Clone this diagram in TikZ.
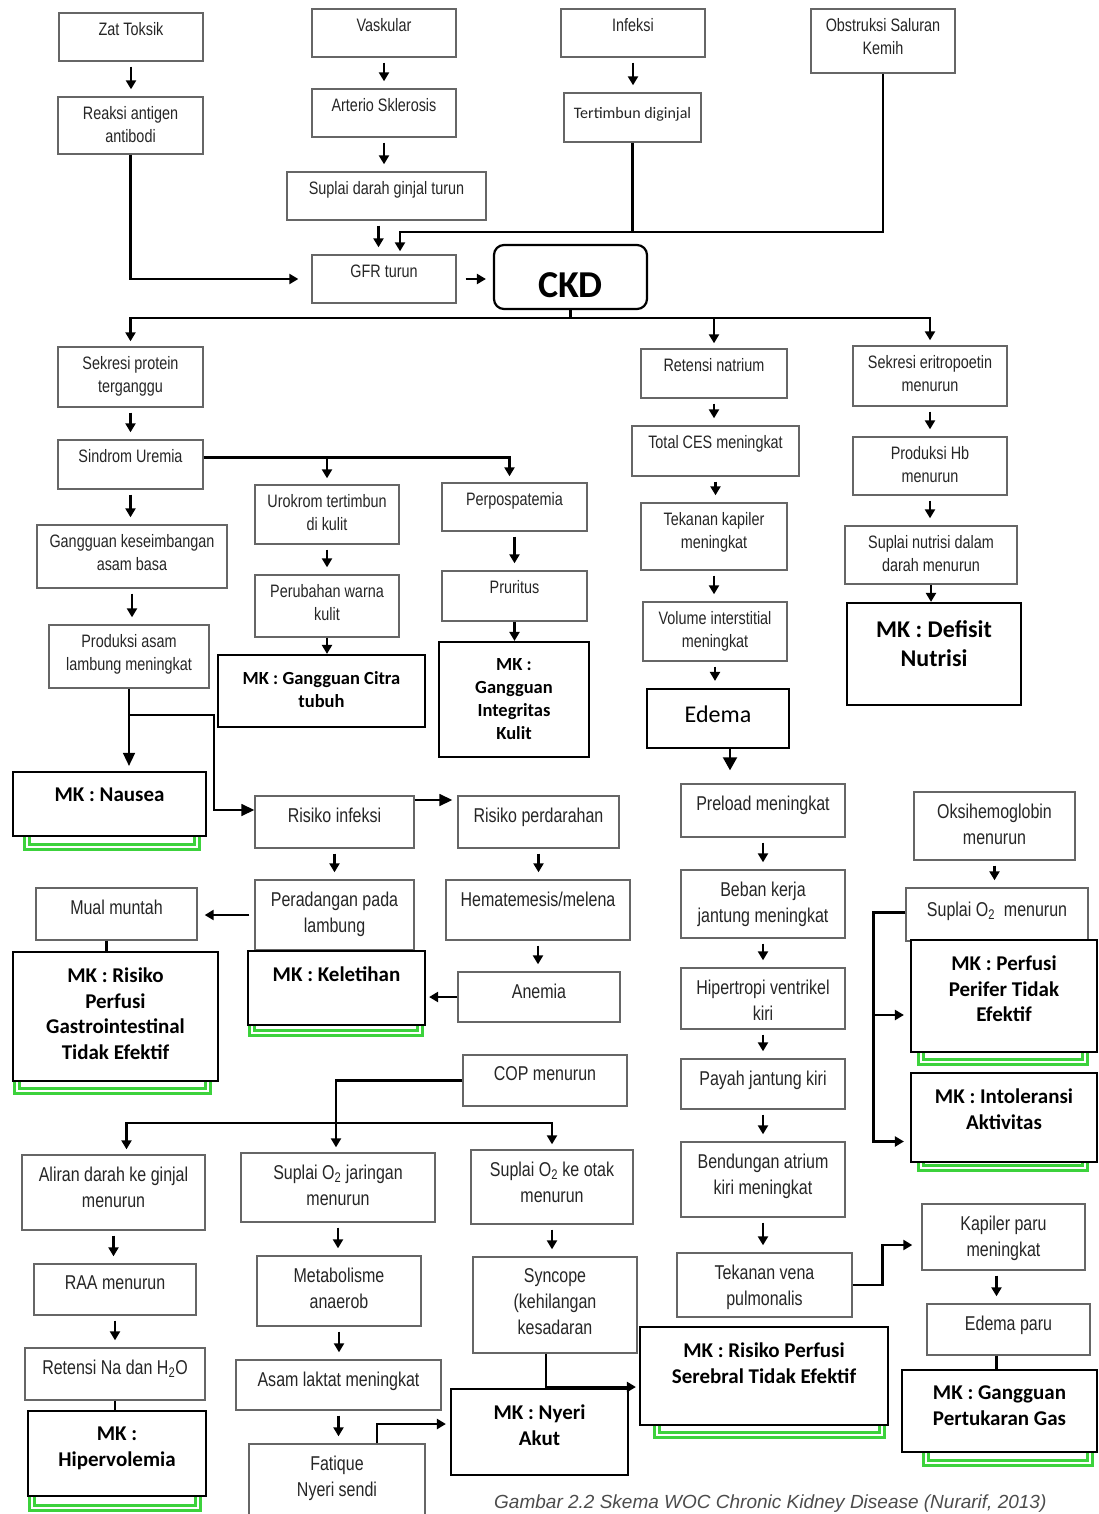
\documentclass[tikz,border=0pt]{standalone}
\usepackage{fontspec}
\usetikzlibrary{arrows.meta}
\newfontfamily\gfont[FakeStretch=0.8]{Liberation Sans}
\newfontfamily\capfont{Liberation Sans}
\newfontfamily\mkfont{Carlito}
\definecolor{mkgreen}{RGB}{60,210,60}

\tikzset{
  gbox/.style={draw=black!60, line width=1.4pt, fill=white, inner sep=0pt},
  mkbox/.style={draw=black, line width=2.2pt, fill=white, inner sep=0pt},
  gtxt/.style={anchor=north, inner xsep=0pt, inner ysep=10pt, align=center, text=black!85, font=\gfont\fontsize{18}{22.5}\selectfont},
  gtxtb/.style={gtxt, inner ysep=12.5pt, font=\gfont\fontsize{20}{26}\selectfont},
  gtxtc/.style={gtxt, inner ysep=15pt, font=\mkfont\fontsize{16}{20}\selectfont},
  mtxt/.style={anchor=north, inner xsep=0pt, inner ysep=17pt, align=center, font=\mkfont\bfseries\fontsize{21}{25.5}\selectfont},
  mtxts/.style={mtxt, font=\mkfont\bfseries\fontsize{18.5}{23}\selectfont},
  mtxtl/.style={mtxt, inner ysep=19pt, font=\mkfont\bfseries\fontsize{24}{29}\selectfont},
  etxt/.style={mtxt, inner ysep=18pt, font=\mkfont\fontsize{24}{28}\selectfont},
  ctxt/.style={mtxt, inner ysep=28pt, font=\mkfont\bfseries\fontsize{38}{40}\selectfont},
  captxt/.style={inner sep=0pt, text=black!70, font=\capfont\itshape\fontsize{19}{22}\selectfont},
  arr/.style={line width=2.6pt, -{Triangle[length=9pt,width=10pt]}, shorten <=5pt, shorten >=7pt},
  arrin/.style={line width=2.6pt, -{Triangle[length=9pt,width=10pt]}},
  ln/.style={line width=2.6pt},
  tarr/.style={line width=1.6pt, -{Triangle[length=13pt,width=12pt]}},
  bigarr/.style={line width=2pt, -{Triangle[length=13pt,width=14pt]}},
  grn/.style={draw=mkgreen, line width=2.5pt, double=white, double distance=2.5pt},
}

\begin{document}
\begin{tikzpicture}[x=1pt, y=-1pt]
\useasboundingbox (0,0) rectangle (1098,1514);
\fill[white] (0,0) rectangle (1098,1514);

% green frames behind the MK boxes
\draw[grn] (27,800) rectangle (197,847);
\draw[grn] (17,1040) rectangle (208,1091);
\draw[grn] (252,1000) rectangle (420,1033);
\draw[grn] (32,1460) rectangle (198,1508);
\draw[grn] (657,1400) rectangle (882,1435);
\draw[grn] (921,1000) rectangle (1085,1062);
\draw[grn] (921,1120) rectangle (1085,1168);
\draw[grn] (926,1420) rectangle (1090,1463);

% causes
\node[gbox, minimum width=144pt, minimum height=48pt, label={[gtxt]north:Zat Toksik}] (zat) at (131,37) {};
\node[gbox, minimum width=145pt, minimum height=57pt, label={[gtxt]north:{Reaksi antigen\\antibodi}}] (reaksi) at (130.5,125.5) {};
\node[gbox, minimum width=144pt, minimum height=48pt, label={[gtxt]north:Vaskular}] (vask) at (384,33) {};
\node[gbox, minimum width=144pt, minimum height=48pt, label={[gtxt]north:Arterio Sklerosis}] (arterio) at (384,113) {};
\node[gbox, minimum width=199pt, minimum height=48pt, label={[gtxt]north:Suplai darah ginjal turun}] (supdarah) at (386.5,196) {};
\node[gbox, minimum width=144pt, minimum height=48pt, label={[gtxt]north:GFR turun}] (gfr) at (384,279) {};
\node[gbox, minimum width=144pt, minimum height=48pt, label={[gtxt]north:Infeksi}] (infeksi) at (633,33) {};
\node[gbox, minimum width=137pt, minimum height=49pt, label={[gtxtc]north:Tertimbun diginjal}] (tertimbun) at (632.5,117.5) {};
\node[gbox, minimum width=144pt, minimum height=64pt, label={[gtxt]north:{Obstruksi Saluran\\Kemih}}] (obstr) at (883,41) {};
\node[mkbox, rounded corners=10pt, minimum width=153pt, minimum height=64pt, label={[ctxt]north:CKD}] (ckd) at (570.5,277) {};

% uremia branch
\node[gbox, minimum width=145pt, minimum height=60pt, label={[gtxt]north:{Sekresi protein\\terganggu}}] (sekresi) at (130.5,377) {};
\node[gbox, minimum width=145pt, minimum height=49pt, label={[gtxt]north:Sindrom Uremia}] (sindrom) at (130.5,464.5) {};
\node[gbox, minimum width=190pt, minimum height=63pt, label={[gtxt]north:{Gangguan keseimbangan\\asam basa}}] (gangguan) at (132,556.5) {};
\node[gbox, minimum width=160pt, minimum height=63pt, label={[gtxt]north:{Produksi asam\\lambung meningkat}}] (produksi) at (129,656.5) {};
\node[gbox, minimum width=144pt, minimum height=59pt, label={[gtxt]north:{Urokrom tertimbun\\di kulit}}] (urokrom) at (327,514.5) {};
\node[gbox, minimum width=144pt, minimum height=62pt, label={[gtxt]north:{Perubahan warna\\kulit}}] (perubahan) at (327,606) {};
\node[gbox, minimum width=145pt, minimum height=48pt, label={[gtxt]north:Perpospatemia}] (perpos) at (514.5,507) {};
\node[gbox, minimum width=145pt, minimum height=50pt, label={[gtxt]north:Pruritus}] (pruritus) at (514.5,596) {};

% natrium and eritropoetin branches
\node[gbox, minimum width=146pt, minimum height=49pt, label={[gtxt]north:Retensi natrium}] (retensi) at (714,373.5) {};
\node[gbox, minimum width=167pt, minimum height=50pt, label={[gtxt]north:Total CES meningkat}] (ces) at (715.5,451) {};
\node[gbox, minimum width=146pt, minimum height=67pt, label={[gtxt]north:{Tekanan kapiler\\meningkat}}] (tkapiler) at (714,536.5) {};
\node[gbox, minimum width=144pt, minimum height=59pt, label={[gtxt]north:{Volume interstitial\\meningkat}}] (volume) at (715,631.5) {};
\node[mkbox, minimum width=142pt, minimum height=59pt, label={[etxt]north:Edema}] (edema) at (718,718.5) {};
\node[gbox, minimum width=154pt, minimum height=60pt, label={[gtxt]north:{Sekresi eritropoetin\\menurun}}] (eritro) at (930,376) {};
\node[gbox, minimum width=154pt, minimum height=58pt, label={[gtxt]north:{Produksi Hb\\menurun}}] (hb) at (930,466) {};
\node[gbox, minimum width=172pt, minimum height=58pt, label={[gtxt]north:{Suplai nutrisi dalam\\darah menurun}}] (nutrisi) at (931,555) {};

% lower part
\node[gbox, minimum width=159pt, minimum height=52pt, label={[gtxtb]north:Risiko infeksi}] (risinf) at (334.5,822) {};
\node[gbox, minimum width=161pt, minimum height=52pt, label={[gtxtb]north:Risiko perdarahan}] (risper) at (538.5,822) {};
\node[gbox, minimum width=159pt, minimum height=70pt, label={[gtxtb]north:{Peradangan pada\\lambung}}] (peradangan) at (334.5,915) {};
\node[gbox, minimum width=161pt, minimum height=52pt, label={[gtxtb]north:Mual muntah}] (mual) at (116.5,914) {};
\node[gbox, minimum width=184pt, minimum height=60pt, label={[gtxtb]north:Hematemesis/melena}] (hemat) at (538,910) {};
\node[gbox, minimum width=162pt, minimum height=50pt, label={[gtxtb]north:Anemia}] (anemia) at (539,997) {};
\node[gbox, minimum width=164pt, minimum height=51pt, label={[gtxtb]north:COP menurun}] (cop) at (545,1080.5) {};
\node[gbox, minimum width=183pt, minimum height=75pt, label={[gtxtb]north:{Aliran darah ke ginjal\\menurun}}] (aliran) at (113.5,1192.5) {};
\node[gbox, minimum width=162pt, minimum height=51pt, label={[gtxtb]north:RAA menurun}] (raa) at (115,1289.5) {};
\node[gbox, minimum width=180pt, minimum height=52pt, label={[gtxtb]north:{Retensi Na dan H\textsubscript{2}O}}] (retna) at (115,1374) {};
\node[gbox, minimum width=194pt, minimum height=69pt, label={[gtxtb]north:{Suplai O\textsubscript{2} jaringan\\menurun}}] (sjar) at (338,1187.5) {};
\node[gbox, minimum width=164pt, minimum height=70pt, label={[gtxtb]north:{Metabolisme\\anaerob}}] (metab) at (339,1291) {};
\node[gbox, minimum width=205pt, minimum height=50pt, label={[gtxtb]north:Asam laktat meningkat}] (asam) at (338.5,1385) {};
\node[gbox, minimum width=176pt, minimum height=86pt, label={[gtxtb]north:{Fatique\\Nyeri sendi}}] (fatique) at (337,1487) {};
\node[gbox, minimum width=162pt, minimum height=74pt, label={[gtxtb]north:{Suplai O\textsubscript{2} ke otak\\menurun}}] (sotak) at (552,1187) {};
\node[gbox, minimum width=164pt, minimum height=96pt, label={[gtxtb]north:{Syncope\\(kehilangan\\kesadaran}}] (syncope) at (555,1305) {};
\node[gbox, minimum width=164pt, minimum height=53pt, label={[gtxtb]north:Preload meningkat}] (preload) at (763,810.5) {};
\node[gbox, minimum width=164pt, minimum height=68pt, label={[gtxtb]north:{Beban kerja\\jantung meningkat}}] (beban) at (763,904) {};
\node[gbox, minimum width=164pt, minimum height=61pt, label={[gtxtb]north:{Hipertropi ventrikel\\kiri}}] (hipertropi) at (763,998.5) {};
\node[gbox, minimum width=164pt, minimum height=50pt, label={[gtxtb]north:Payah jantung kiri}] (payah) at (763,1084) {};
\node[gbox, minimum width=164pt, minimum height=75pt, label={[gtxtb]north:{Bendungan atrium\\kiri meningkat}}] (bendungan) at (763,1179.5) {};
\node[gbox, minimum width=175pt, minimum height=64pt, label={[gtxtb]north:{Tekanan vena\\pulmonalis}}] (tvena) at (764.5,1285) {};
\node[gbox, minimum width=161pt, minimum height=68pt, label={[gtxtb]north:{Oksihemoglobin\\menurun}}] (oksi) at (994.5,826) {};
\node[gbox, minimum width=182pt, minimum height=53pt, label={[gtxtb, inner ysep=14pt]north:{Suplai O\textsubscript{2}\ \ menurun}}] (so2) at (997,914.5) {};
\node[gbox, minimum width=163pt, minimum height=66pt, label={[gtxtb]north:{Kapiler paru\\meningkat}}] (kapiler) at (1003.5,1237) {};
\node[gbox, minimum width=163pt, minimum height=51pt, label={[gtxtb]north:Edema paru}] (edparu) at (1008.5,1329.5) {};

% MK boxes
\node[mkbox, minimum width=207pt, minimum height=72pt, label={[mtxts]north:{MK : Gangguan Citra\\tubuh}}] (citra) at (321.5,691) {};
\node[mkbox, minimum width=150pt, minimum height=115pt, label={[mtxts]north:{MK :\\Gangguan\\Integritas\\Kulit}}] (integ) at (514,699.5) {};
\node[mkbox, minimum width=174pt, minimum height=102pt, label={[mtxtl]north:{MK : Defisit\\Nutrisi}}] (defisit) at (934,654) {};
\node[mkbox, minimum width=193pt, minimum height=64pt, label={[mtxt]north:{MK : Nausea}}] (nausea) at (109.5,804) {};
\node[mkbox, minimum width=205pt, minimum height=129pt, label={[mtxt]north:{MK : Risiko\\Perfusi\\Gastrointestinal\\Tidak Efektif}}] (gastro) at (115.5,1016.5) {};
\node[mkbox, minimum width=177pt, minimum height=74pt, label={[mtxt]north:{MK : Keletihan}}] (kelet) at (336.5,988) {};
\node[mkbox, minimum width=178pt, minimum height=85pt, label={[mtxt]north:{MK :\\Hipervolemia}}] (hiper) at (117,1453.5) {};
\node[mkbox, minimum width=177pt, minimum height=86pt, label={[mtxt]north:{MK : Nyeri\\Akut}}] (nyeri) at (539.5,1432) {};
\node[mkbox, minimum width=248pt, minimum height=98pt, label={[mtxt]north:{MK : Risiko Perfusi\\Serebral Tidak Efektif}}] (serebral) at (764,1376) {};
\node[mkbox, minimum width=186pt, minimum height=112pt, label={[mtxt]north:{MK : Perfusi\\Perifer Tidak\\Efektif}}] (perifer) at (1004,996) {};
\node[mkbox, minimum width=186pt, minimum height=89pt, label={[mtxt]north:{MK : Intoleransi\\Aktivitas}}] (intol) at (1004,1117.5) {};
\node[mkbox, minimum width=195pt, minimum height=82pt, label={[mtxt]north:{MK : Gangguan\\Pertukaran Gas}}] (tukar) at (999.5,1411) {};

\node[captxt, anchor=south west] (caption) at (494,1513) {Gambar 2.2 Skema WOC Chronic Kidney Disease (Nurarif, 2013)};

% short arrows
\foreach \a/\b in {zat/reaksi, vask/arterio, arterio/supdarah, infeksi/tertimbun,
    sekresi/sindrom, sindrom/gangguan, gangguan/produksi, urokrom/perubahan, perpos/pruritus,
    retensi/ces, ces/tkapiler, tkapiler/volume, volume/edema, eritro/hb, hb/nutrisi,
    risinf/peradangan, risper/hemat, hemat/anemia, aliran/raa, raa/retna,
    sjar/metab, metab/asam, asam/fatique, sotak/syncope, preload/beban, beban/hipertropi,
    hipertropi/payah, payah/bendungan, bendungan/tvena, oksi/so2}
  \draw[arr] (\a.south) -- (\a.south |- \b.north);
\foreach \a/\b in {perubahan/citra, pruritus/integ, nutrisi/defisit}
  \draw[arrin] (\a.south) -- (\a.south |- \b.north);
\draw[arr] ([xshift=-8pt]supdarah.south) -- ([xshift=-8pt]supdarah.south |- gfr.north);
\draw[arr] ([xshift=-7pt]kapiler.south) -- ([xshift=-7pt]kapiler.south |- edparu.north);

% into GFR and CKD
\coordinate (gfrin) at (400,232);
\draw[ln] (tertimbun.south) -- (tertimbun.south |- gfrin);
\draw[arrin, shorten >=3pt] (obstr.south) |- (gfrin) -- (gfrin |- gfr.north);
\draw[arrin, shorten >=13pt] (reaksi.south) |- (gfr.west);
\draw[arr, shorten <=9pt] (gfr.east) -- (ckd.west |- gfr.east);

% out of CKD
\coordinate (ckdbus) at (ckd.south |- 0,318);
\draw[ln] (ckd.south) -- (ckdbus);
\foreach \n in {sekresi, retensi, eritro}
  \draw[arrin, shorten >=5pt] (ckdbus) -| (\n.north);

\draw[arrin, shorten >=6pt] ([yshift=7pt]sindrom.east) -| (urokrom.north);
\draw[arrin, shorten >=6pt] ([yshift=7pt]sindrom.east) -| ([xshift=-5pt]perpos.north);

\coordinate (brk) at (214,715);
\draw[tarr, shorten >=5pt] (produksi.south) -- (produksi.south |- nausea.north);
\draw[tarr] (produksi.south |- brk) -- (brk) |- ([yshift=12pt]risinf.west);
\draw[tarr, shorten >=5pt] ([yshift=22pt]risinf.east) -- ([yshift=22pt]risper.west);
\draw[arr] (peradangan.west) -- (peradangan.west -| mual.east);
\draw[ln] ([xshift=-10pt]mual.south) -- ([xshift=-10pt]mual.south |- gastro.north);
\draw[arr, shorten <=0pt, shorten >=3pt] (anemia.west) -- (anemia.west -| kelet.east);

% COP
\coordinate (copbus) at (336,1123);
\draw[ln] (cop.west) -| (copbus);
\draw[arrin, shorten >=5pt] (copbus) -| ([xshift=13pt]aliran.north);
\draw[arrin, shorten >=5pt] (copbus) -- (copbus |- sjar.north);
\draw[arrin, shorten >=5pt] (copbus) -| (sotak.north);
\draw[ln] (retna.south) -- (retna.south |- hiper.north);
\draw[arrin, shorten >=4pt] ([xshift=40pt]fatique.north) |- ([yshift=8pt]nyeri.west);
\draw[arrin, shorten >=3pt] ([xshift=-9pt]syncope.south) |- ([yshift=-11pt]serebral.west);

% heart and lung
\draw[bigarr, shorten >=13pt] ([xshift=12pt]edema.south) -- ([xshift=12pt]edema.south |- preload.north);
\draw[arrin, shorten >=9pt] (tvena.east) -- ++(30,0) |- ([yshift=-8pt]kapiler.west);
\draw[ln] ([xshift=-12pt]edparu.south) -- ([xshift=-12pt]edparu.south |- tukar.north);
\draw[arrin, shorten >=6pt] ([yshift=2pt]so2.west) -- ++(-32,0) |- ([yshift=-19pt]perifer.west);
\draw[arrin, shorten >=6pt] ([yshift=2pt]so2.west) -- ++(-32,0) |- ([yshift=-24pt]intol.west);
\end{tikzpicture}
\end{document}
